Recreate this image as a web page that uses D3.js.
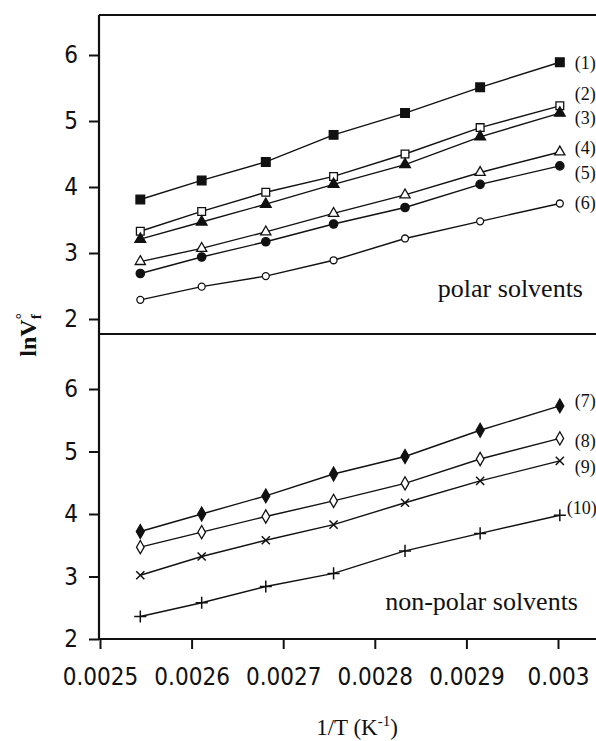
<!DOCTYPE html>
<html lang="en">
<head>
  <meta charset="UTF-8" />
  <title>lnVf vs 1/T</title>
  <script src="https://d3js.org/d3.v7.min.js"></script>
  <style>
    body { margin: 0; background: #fff; }
    svg { display: block; }
    .tick text { font-family: "DejaVu Sans Condensed", "DejaVu Sans", sans-serif; font-stretch: condensed; font-size: 24px; fill: #111; }
    .serif { font-family: "Liberation Serif", "Times New Roman", serif; fill: #111; }
  </style>
</head>
<body>
  <svg id="chart" width="596" height="741"></svg>

  <script>
    // 1/T values (K^-1), same for every solvent
    const invT = [0.002544, 0.002611, 0.002681, 0.002755, 0.002833, 0.002915, 0.003002];

    // polar solvents (1)-(6)
    const s1 = [3.81, 4.10, 4.38, 4.79, 5.12, 5.51, 5.89];
    const s2 = [3.33, 3.63, 3.92, 4.16, 4.50, 4.90, 5.23];
    const s3 = [3.21, 3.47, 3.74, 4.04, 4.34, 4.76, 5.12];
    const s4 = [2.87, 3.07, 3.32, 3.60, 3.88, 4.22, 4.53];
    const s5 = [2.69, 2.94, 3.17, 3.44, 3.69, 4.04, 4.32];
    const s6 = [2.29, 2.49, 2.65, 2.89, 3.22, 3.48, 3.75];

    // non-polar solvents (7)-(10)
    const s7 = [3.72, 4.00, 4.29, 4.64, 4.92, 5.34, 5.73];
    const s8 = [3.47, 3.71, 3.96, 4.21, 4.49, 4.88, 5.21];
    const s9 = [3.02, 3.32, 3.58, 3.83, 4.18, 4.53, 4.85];
    const s10 = [2.36, 2.58, 2.84, 3.05, 3.41, 3.69, 3.98];

    const topNames = ["(1)", "(2)", "(3)", "(4)", "(5)", "(6)"];
    const topLabelY = [5.88, 5.42, 5.05, 4.59, 4.21, 3.76];
    const botNames = ["(7)", "(8)", "(9)", "(10)"];
    const botLabelY = [5.82, 5.18, 4.75, 4.10];

    const xTicks = [0.0025, 0.0026, 0.0027, 0.0028, 0.0029, 0.003];
    const xTickLabels = ["0.0025", "0.0026", "0.0027", "0.0028", "0.0029", "0.003"];
    const yTicks = [2, 3, 4, 5, 6];

    const svg = d3.select("#chart");
    const W = 596;
    const left = 99;

    const x = d3.scaleLinear().domain([0.0025, 0.003]).range([100, 558]);
    const yTop = d3.scaleLinear().domain([2, 6]).range([319, 55]);
    const yBot = d3.scaleLinear().domain([2, 6]).range([639, 389]);

    const panelTop = 15, panelMid = 334, panelBot = 639;

    // marker styles: [symbol type, size, filled]
    const topMarks = [
      [d3.symbolSquare, 75, true],
      [d3.symbolSquare, 60, false],
      [d3.symbolTriangle, 50, true],
      [d3.symbolTriangle, 45, false],
      [d3.symbolCircle, 55, true],
      [d3.symbolCircle, 38, false]
    ];
    const botMarks = [
      [d3.symbolDiamond, 55, true],
      [d3.symbolDiamond, 50, false],
      [d3.symbolX, 45, false],
      [d3.symbolPlus, 50, false]
    ];

    function drawSeries(series, marks, y, names, labelY) {
      const line = d3.line().x((d, i) => x(invT[i])).y(d => y(d));
      series.forEach((vals, k) => {
        svg.append("path")
          .attr("d", line(vals))
          .attr("fill", "none")
          .attr("stroke", "#111")
          .attr("stroke-width", 1.4);
        const [type, size, filled] = marks[k];
        const stroke = type === d3.symbolX || type === d3.symbolPlus;
        svg.selectAll(null)
          .data(vals)
          .join("path")
          .attr("transform", (d, i) => `translate(${x(invT[i])},${y(d)})`)
          .attr("d", d3.symbol().type(type).size(size))
          .attr("fill", stroke ? "none" : (filled ? "#111" : "#fff"))
          .attr("stroke", "#111")
          .attr("stroke-width", stroke ? 1.5 : 1.3);
        svg.append("text")
          .attr("class", "serif")
          .attr("x", x(invT[invT.length - 1]) + (names[k] === "(10)" ? 7 : 15))
          .attr("y", y(labelY[k]))
          .attr("dy", "0.35em")
          .attr("font-size", 18)
          .text(names[k]);
      });
    }

    drawSeries([s1, s2, s3, s4, s5, s6], topMarks, yTop, topNames, topLabelY);
    drawSeries([s7, s8, s9, s10], botMarks, yBot, botNames, botLabelY);

    // frame lines
    const frame = [
      [left, panelTop, W, panelTop],
      [left, panelMid, W, panelMid],
      [left, panelBot, W, panelBot],
      [left, panelTop, left, panelBot]
    ];
    svg.selectAll(null)
      .data(frame)
      .join("line")
      .attr("x1", d => d[0]).attr("y1", d => d[1])
      .attr("x2", d => d[2]).attr("y2", d => d[3])
      .attr("stroke", "#111")
      .attr("stroke-width", 2.2);

    // axes
    function styleAxis(g) {
      g.select(".domain").remove();
      g.selectAll(".tick line").attr("stroke", "#111").attr("stroke-width", 2);
    }

    svg.append("g")
      .attr("transform", `translate(${left},0)`)
      .call(d3.axisLeft(yTop).tickValues(yTicks).tickSize(10).tickPadding(11).tickFormat(d3.format("d")))
      .call(styleAxis);

    svg.append("g")
      .attr("transform", `translate(${left},0)`)
      .call(d3.axisLeft(yBot).tickValues(yTicks).tickSize(10).tickPadding(11).tickFormat(d3.format("d")))
      .call(styleAxis);

    svg.append("g")
      .attr("transform", `translate(0,${panelBot})`)
      .call(d3.axisBottom(x).tickValues(xTicks).tickSize(10).tickPadding(19)
        .tickFormat((d, i) => xTickLabels[i]))
      .call(styleAxis);

    // panel notes
    svg.append("text").attr("class", "serif")
      .attr("x", 583).attr("y", 297).attr("text-anchor", "end")
      .attr("font-size", 26).text("polar solvents");
    svg.append("text").attr("class", "serif")
      .attr("x", 578).attr("y", 610).attr("text-anchor", "end")
      .attr("font-size", 26).text("non-polar solvents");

    // axis titles
    const xt = svg.append("text").attr("class", "serif")
      .attr("x", 357).attr("y", 735).attr("text-anchor", "middle")
      .attr("font-size", 23);
    xt.append("tspan").text("1/T (K");
    xt.append("tspan").attr("dy", -9).attr("font-size", 15).text("-1");
    xt.append("tspan").attr("dy", 9).text(")");

    const yt = svg.append("text").attr("class", "serif")
      .attr("transform", "translate(36,335) rotate(-90)")
      .attr("text-anchor", "middle")
      .attr("font-size", 24)
      .attr("font-weight", "bold");
    yt.append("tspan").text("lnV");
    yt.append("tspan").attr("dy", -10).attr("font-size", 15).text("°");
    yt.append("tspan").attr("dx", -6).attr("dy", 15).attr("font-size", 15).text("f");
  </script>
</body>
</html>
